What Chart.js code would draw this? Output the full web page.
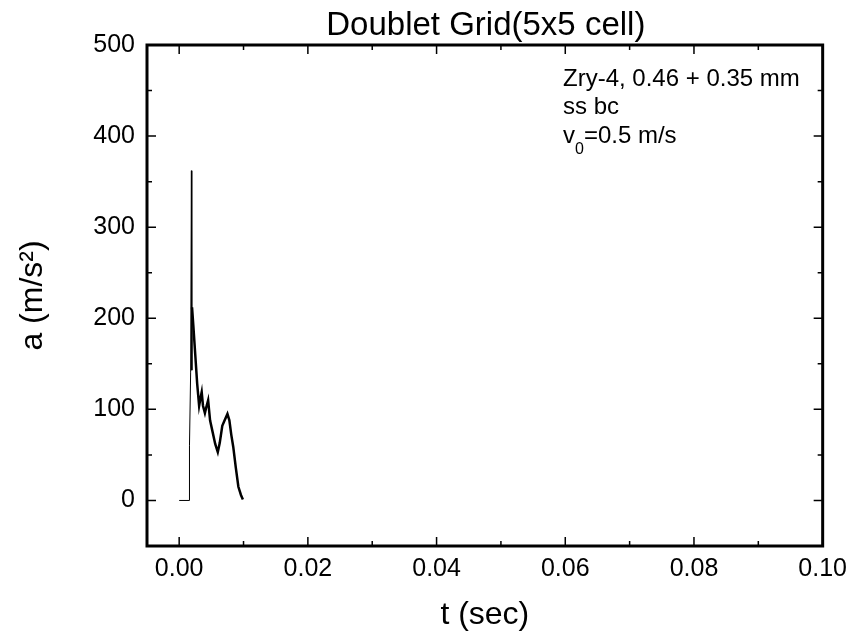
<!DOCTYPE html>
<html>
<head>
<meta charset="utf-8">
<script src="https://cdn.jsdelivr.net/npm/chart.js@4/dist/chart.umd.min.js"></script>
<style>
  html, body { margin: 0; padding: 0; background: #fff; }
  #wrap { width: 855px; height: 638px; position: relative; }
</style>
</head>
<body>
<div id="wrap"><canvas id="accelChart"></canvas></div>
<script>
// ── data ──
const timeVals  = [0, 0.0016, 0.0016, 0.00178, 0.0019, 0.00195, 0.00198, 0.0020, 0.0022, 0.0025, 0.0028, 0.0031, 0.0033, 0.0035, 0.0037, 0.0040, 0.0042, 0.0045, 0.0048, 0.0052, 0.0056, 0.0060, 0.0063, 0.0067, 0.0070, 0.0075, 0.0078, 0.0081, 0.0084, 0.0088, 0.0092, 0.0096, 0.0099];
const accelVals = [0, 0, 60, 140, 362, 268, 143, 212, 192, 160, 128, 104, 112, 119, 104, 96, 102, 110, 88, 75, 62, 53, 63, 82, 87, 95, 88, 72, 59, 36, 15, 6, 1];

const xMajor = [0, 0.02, 0.04, 0.06, 0.08, 0.10];
const xMinor = [0.01, 0.03, 0.05, 0.07, 0.09];
const yMajor = [0, 100, 200, 300, 400, 500];
const yMinor = [50, 150, 250, 350, 450];

const chartTitle = 'Doublet Grid(5x5 cell)';
const noteLines = ['Zry-4, 0.46 + 0.35 mm', 'ss bc'];

const FONT = "'Liberation Sans', Arial, sans-serif";

// frame, inside ticks on all four sides, title and note
const framePlugin = {
  id: 'frame',
  afterDraw(chart) {
    const { ctx, chartArea: a, scales: { x, y } } = chart;
    ctx.save();
    ctx.strokeStyle = '#000';
    ctx.lineWidth = 1.5;
    ctx.beginPath();
    const tickX = (vals, len) => vals.forEach(v => {
      const px = x.getPixelForValue(v);
      ctx.moveTo(px, a.bottom); ctx.lineTo(px, a.bottom - len);
      ctx.moveTo(px, a.top); ctx.lineTo(px, a.top + len);
    });
    const tickY = (vals, len) => vals.forEach(v => {
      const py = y.getPixelForValue(v);
      ctx.moveTo(a.left, py); ctx.lineTo(a.left + len, py);
      ctx.moveTo(a.right, py); ctx.lineTo(a.right - len, py);
    });
    tickX(xMajor, 9); tickX(xMinor, 5);
    tickY(yMajor, 9); tickY(yMinor, 5);
    ctx.stroke();

    ctx.lineWidth = 3;
    ctx.strokeRect(a.left, a.top, a.right - a.left, a.bottom - a.top);

    // title, centred over the plot
    ctx.fillStyle = '#000';
    ctx.font = '33px ' + FONT;
    ctx.textAlign = 'center';
    ctx.textBaseline = 'alphabetic';
    ctx.fillText(chartTitle, (a.left + a.right) / 2 + 1, 35);

    // note in the upper right
    ctx.textAlign = 'left';
    ctx.font = '24px ' + FONT;
    const nx = a.left + 416;
    ctx.fillText(noteLines[0], nx, 86);
    ctx.fillText(noteLines[1], nx, 114);
    ctx.fillText('v', nx, 143);
    const vw = ctx.measureText('v').width;
    ctx.font = '16px ' + FONT;
    ctx.fillText('0', nx + vw, 154);
    const zw = ctx.measureText('0').width;
    ctx.font = '24px ' + FONT;
    ctx.fillText('=0.5 m/s', nx + vw + zw, 143);
    ctx.restore();
  }
};

new Chart(document.getElementById('accelChart'), {
  type: 'line',
  data: {
    datasets: [{
      data: timeVals.map((t, i) => ({ x: t, y: accelVals[i] })),
      borderColor: '#000',
      borderWidth: 2.5,
      pointRadius: 0,
      tension: 0,
      segment: {
        borderWidth: c => (c.p0DataIndex < 7 ? 1 : 2.5)
      }
    }]
  },
  options: {
    responsive: true,
    maintainAspectRatio: false,
    animation: false,
    layout: { padding: { top: 45, right: 31, left: 0, bottom: 0 } },
    plugins: { legend: { display: false }, tooltip: { enabled: false } },
    scales: {
      x: {
        type: 'linear',
        min: -0.005, max: 0.10,
        afterFit: s => { s.height = 92; },
        afterBuildTicks: s => { s.ticks = xMajor.map(v => ({ value: v })); },
        grid: { display: false, drawTicks: false },
        border: { display: false },
        ticks: {
          color: '#000', padding: 8, maxRotation: 0, autoSkip: false,
          font: { family: FONT, size: 25 },
          callback: v => v.toFixed(2)
        },
        title: {
          display: true, text: 't (sec)', color: '#000',
          font: { family: FONT, size: 32 },
          padding: { top: 0, bottom: 4 }
        }
      },
      y: {
        type: 'linear',
        min: -50, max: 500,
        afterFit: s => { s.width = 147; },
        afterBuildTicks: s => { s.ticks = yMajor.map(v => ({ value: v })); },
        grid: { display: false, drawTicks: false },
        border: { display: false },
        ticks: {
          color: '#000', padding: 12, autoSkip: false,
          font: { family: FONT, size: 25 }
        },
        title: {
          display: true, text: 'a (m/s²)', color: '#000',
          font: { family: FONT, size: 32 },
          padding: { top: 14, bottom: 0 }
        }
      }
    }
  },
  plugins: [framePlugin]
});
</script>
</body>
</html>
